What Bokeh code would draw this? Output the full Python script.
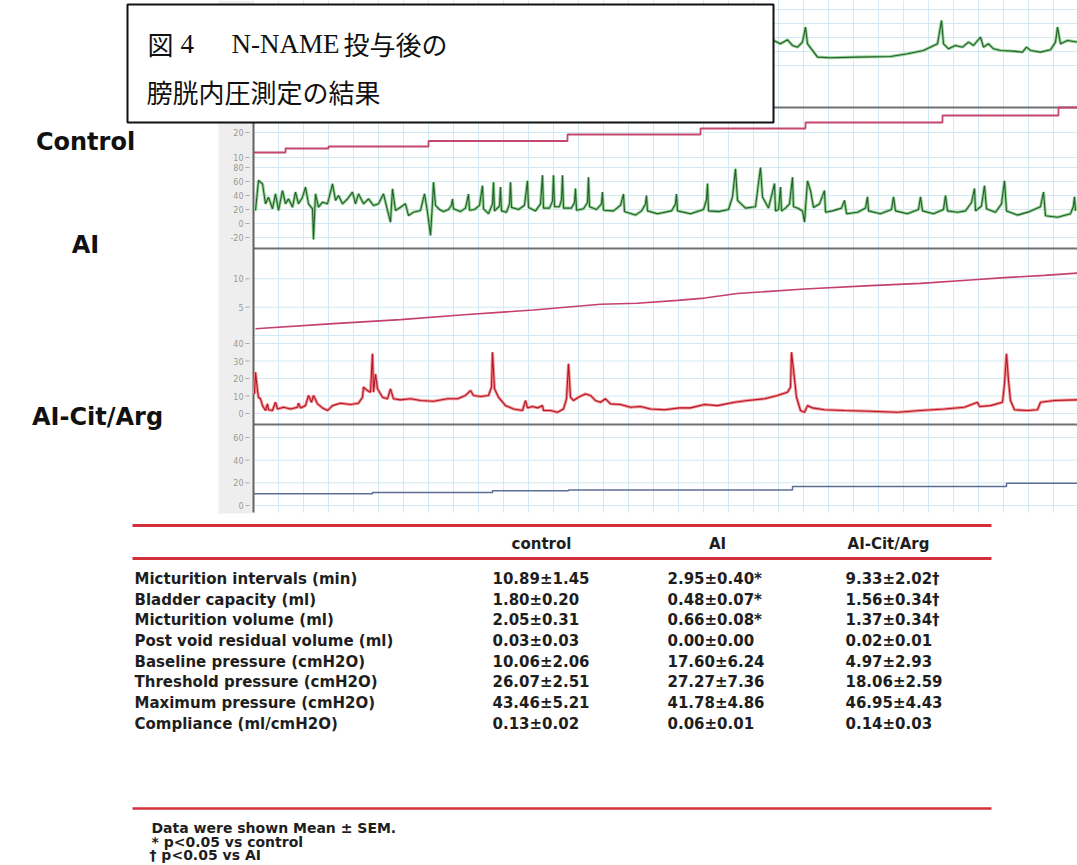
import numpy as np
from bokeh.plotting import figure
from bokeh.models import Range1d
from bokeh.embed import file_html
from bokeh.resources import INLINE
from bokeh.core.properties import value

# ---------------- data (time in minutes) ----------------
# Control: intravesical pressure (cmH2O), visible part only
CTRL_P_T = [51.4, 52.0, 52.7, 53.4, 53.9, 54.4, 54.9, 55.2, 55.4, 55.9,
            56.4, 57.7, 60.4, 63.7, 65.4, 67.0, 68.4, 68.8, 69.0, 69.5,
            70.2, 70.9, 71.5, 72.0, 72.7, 73.0, 73.5, 74.0, 74.7, 76.0,
            76.9, 77.3, 77.7, 78.7, 79.7, 80.2, 80.4, 80.7, 81.4, 82.4]
CTRL_P = [33.4, 35.8, 31.0, 36.7, 28.6, 26.2, 33.4, 54.8, 31.0, 21.5,
          12.0, 11.0, 12.0, 12.9, 16.7, 21.5, 31.0, 64.3, 31.0, 23.9,
          28.6, 26.2, 33.4, 28.6, 40.5, 26.2, 31.0, 23.9, 21.5, 20.5,
          19.1, 26.2, 21.5, 19.1, 22.4, 33.4, 54.8, 31.0, 35.8, 33.4]
# Control: voided volume (step trace)
CTRL_V_T = [0.0, 3.2, 7.5, 17.5, 31.4, 44.7, 55.2, 68.9, 80.5, 84.0]
CTRL_V = [12.0, 13.6, 14.4, 16.6, 19.2, 21.6, 24.0, 26.8, 30.0, 30.0]

# AI: intravesical pressure (cmH2O)
AI_P_T = [0.2, 0.5, 0.9, 1.2, 1.5, 1.9, 2.2, 2.5, 2.9, 3.2,
          3.5, 3.9, 4.2, 4.5, 4.9, 5.2, 5.5, 5.9, 6.0, 6.2,
          6.5, 6.9, 7.4, 7.9, 8.2, 8.5, 8.9, 9.4, 9.9, 10.2,
          10.5, 11.0, 11.5, 12.0, 12.5, 13.0, 13.4, 13.7, 13.9, 14.2,
          14.7, 15.2, 15.5, 16.0, 16.7, 17.1, 17.4,
          17.7, 17.9, 18.0, 18.2, 18.6, 19.0, 19.5, 19.8, 19.9, 20.0,
          20.7, 21.2, 21.5, 21.6, 22.1, 22.6, 22.9, 23.0, 23.5, 23.9,
          24.0, 24.1, 24.6, 24.7, 24.8, 25.3, 25.6, 25.7, 25.8, 26.5,
          27.1, 27.4, 27.5, 28.2, 28.7, 28.9, 29.0, 29.6, 29.9, 30.0,
          30.1, 30.6, 30.8, 30.9, 31.0, 31.8, 32.1, 32.2, 32.3, 33.0,
          33.4, 33.5, 33.6, 34.3, 34.8, 34.9, 35.0, 36.0, 36.7, 37.0,
          37.1, 38.2, 38.8, 39.2, 39.3, 39.4, 40.4, 41.8, 42.2, 42.3,
          42.4, 43.7, 45.0, 45.3, 45.4, 45.5, 46.5, 47.5, 47.9, 48.2,
          48.4, 49.2, 50.2, 50.7, 50.9, 51.5, 52.1, 52.2, 52.5, 52.7,
          52.8, 53.2, 53.6, 53.9, 54.0, 54.4, 54.9, 55.1, 55.4, 55.7,
          56.0, 56.6, 57.1, 57.2, 57.9, 58.8, 59.1, 59.3, 60.4, 61.2,
          61.4, 61.5, 62.7, 63.8, 64.0, 64.2, 65.4, 66.5, 66.7, 66.9,
          68.0, 69.0, 69.2, 69.4, 70.4, 71.2, 71.8, 72.1, 72.2, 72.8,
          73.1, 73.3, 74.2, 74.8, 75.1, 75.3, 76.4, 77.6, 78.7, 79.0,
          79.2, 80.4, 81.7, 82.0, 82.1, 82.2]
AI_P = [18.6, 61.4, 56.7, 28.1, 37.6, 21.0, 42.4, 18.6, 47.1, 28.1,
        35.2, 23.3, 44.8, 28.1, 37.6, 51.9, 28.1, 21.0, -22.9, 42.4,
        23.3, 30.5, 28.1, 56.7, 32.9, 40.0, 28.1, 35.2, 44.8, 28.1,
        42.4, 28.1, 35.2, 25.7, 28.1, 42.4, 18.6, 1.9, 49.5, 18.6,
        23.3, 28.1, 11.4, 16.2, 18.6, 42.4, 16.2,
        -17, 30, 59, 26, 20, 17, 20, 26, 35, 21,
        17, 22, 42, 19, 20, 26, 54, 21, 14, 28,
        59, 18, 25, 52, 18, 16, 28, 59, 23, 20,
        26, 61, 23, 18, 28, 69, 22, 22, 32, 69,
        24, 24, 34, 69, 22, 22, 30, 50, 19, 21,
        30, 66, 24, 20, 28, 45, 19, 18, 26, 42,
        17, 12, 18, 28, 40, 18, 14, 18, 28, 42,
        18, 14, 20, 34, 57, 18, 17, 20, 38, 78,
        33, 22, 24, 80, 38, 22, 57, 18, 20, 52,
        18, 22, 28, 66, 24, 22, 18, 2, 61, 47,
        23, 28, 47, 16, 18, 22, 33, 14, 16, 22,
        38, 18, 14, 20, 38, 18, 14, 20, 38, 18,
        14, 20, 40, 18, 16, 18, 30, 50, 18, 25,
        54, 21, 16, 28, 61, 18, 12, 17, 24, 45,
        11, 9, 14, 25, 38, 18]
# AI: volume (ml)
AI_V_T = [0.2, 8.0, 14.7, 21.4, 28.0, 34.7, 38.4, 42.4, 45.1, 48.4,
          55.1, 61.7, 66.7, 71.7, 75.1, 79.1, 82.4]
AI_V = [1.2, 2.1, 2.8, 3.7, 4.5, 5.5, 5.7, 6.2, 6.6, 7.4,
        8.2, 8.8, 9.2, 9.8, 10.2, 10.6, 11.0]

# AI-Cit/Arg: intravesical pressure (cmH2O)
CIT_P_T = [0.1, 0.2, 0.4, 0.5, 0.7, 0.9, 1.2, 1.4, 1.5, 1.9,
           2.2, 2.4, 3.0, 3.7, 4.4, 4.5, 4.7, 5.2, 5.5, 5.8,
           6.0, 6.4, 6.9, 7.4, 7.9, 8.7, 9.7, 10.5, 10.9, 11.0,
           11.4, 11.7, 11.9, 12.0, 12.2, 12.4, 12.9, 13.4, 13.7, 14.0,
           14.7, 15.7, 16.7, 18.0, 19.4, 20.4, 21.2, 21.7, 22.0, 22.7,
           23.5, 23.8, 23.9, 24.1, 24.5, 25.2, 26.0, 26.9, 27.2, 27.4,
           27.9, 28.4, 28.9, 29.0, 29.7, 30.4, 31.0, 31.3, 31.5, 31.7,
           32.0, 32.5, 33.2, 33.7, 34.2, 34.7, 35.2, 35.7, 36.7, 37.7,
           38.7, 39.7, 41.1, 42.6, 43.7, 45.1, 46.4, 48.1, 49.4, 51.1,
           52.4, 53.4, 53.7, 53.8, 54.1, 54.3, 54.7, 55.1, 55.4, 55.9,
           57.1, 59.1, 61.7, 64.4, 66.7, 69.1, 71.1, 72.4, 72.6, 73.7,
           74.9, 75.1, 75.3, 75.5, 75.7, 76.1, 77.4, 78.4, 78.7, 80.1,
           82.4]
CIT_P = [11.2, 23.6, 13.1, 9.3, 8.4, 4.5, 1.7, 5.5, 2.1, 1.7,
         6.4, 2.6, 3.6, 2.6, 3.6, 5.9, 3.2, 4.5, 10.3, 6.4,
         10.3, 5.5, 3.2, 1.7, 4.5, 5.9, 5.1, 5.9, 9.3, 15.0,
         13.1, 12.2, 34.1, 12.2, 22.6, 14.1, 9.3, 8.4, 14.1, 8.4,
         7.8, 8.4, 7.4, 7.0, 8.4, 8.4, 10.3, 13.1, 10.3, 9.7,
         10.3, 15.0, 35.0, 14.1, 9.3, 4.5, 2.6, 1.7, 7.4, 3.2,
         4.0, 3.2, 4.5, 1.7, 1.7, 0.7, 2.6, 8.4, 28.4, 9.3,
         7.4, 9.3, 11.2, 10.3, 7.4, 6.4, 8.4, 5.5, 5.1, 3.6,
         4.0, 2.6, 2.1, 3.2, 3.2, 5.1, 4.5, 6.4, 7.4, 8.4,
         10.3, 12.2, 15.0, 35.0, 19.8, 9.3, 1.7, 0.7, 4.5, 3.2,
         2.1, 1.7, 1.3, 0.7, 1.7, 2.6, 3.6, 6.4, 4.0, 4.5,
         6.4, 16.9, 34.1, 18.8, 7.4, 2.1, 1.7, 2.1, 6.4, 7.4,
         7.8]
# AI-Cit/Arg: volume (step trace)
CIT_V_T = [0.0, 11.9, 23.9, 31.5, 53.9, 75.3, 84.0]
CIT_V = [10.3, 11.5, 13.0, 13.7, 16.8, 19.7, 19.7]

# tick labels of the recorder axes
CTRL_P_TICKS = [80, 60, 40, 20, 0]
CTRL_V_TICKS = [20, 10]
AI_P_TICKS = [80, 60, 40, 20, 0, -20]
AI_V_TICKS = [10, 5]
CIT_P_TICKS = [40, 30, 20, 10, 0]
CIT_V_TICKS = [60, 40, 20, 0]

GROUP_LABELS = ["Control", "AI", "AI-Cit/Arg"]

# table
TABLE_COLUMNS = ["control", "AI", "AI-Cit/Arg"]
ROW_LABELS = ["Micturition  intervals (min)", "Bladder capacity (ml)",
              "Micturition  volume (ml)", "Post void residual volume (ml)",
              "Baseline pressure (cmH2O)", "Threshold  pressure (cmH2O)",
              "Maximum pressure (cmH2O)", "Compliance (ml/cmH2O)"]
CONTROL_VALS = ["10.89±1.45", "1.80±0.20", "2.05±0.31", "0.03±0.03",
                "10.06±2.06", "26.07±2.51", "43.46±5.21", "0.13±0.02"]
AI_VALS = ["2.95±0.40*", "0.48±0.07*", "0.66±0.08*", "0.00±0.00",
           "17.60±6.24", "27.27±7.36", "41.78±4.86", "0.06±0.01"]
CIT_VALS = ["9.33±2.02†", "1.56±0.34†", "1.37±0.34†", "0.02±0.01",
            "4.97±2.93", "18.06±2.59", "46.95±4.43", "0.14±0.03"]
FOOTNOTES = ["Data were shown  Mean ± SEM.", "*  p<0.05 vs control", "†  p<0.05 vs AI"]

# ---------------- layout (page pixels) ----------------
FT, FB, FL, FR = 0, 865, 0, 1077          # frame edges on the page
T0_X, PX_PER_MIN = 253, 10.0              # time axis origin & scale
PANEL_CAL = {                              # (v1, y1, v2, y2) calibration
    "ctrl_p": (0, 65, 20, 51),
    "ctrl_v": (10, 157, 20, 132),
    "ai_p": (0, 223, 20, 209),
    "ai_v": (0, 335, 10, 278.3),
    "cit_p": (0, 413, 40, 343),
    "cit_v": (0, 505, 60, 437),
}


def band_range(v1, y1, v2, y2):
    s = (y2 - y1) / (v2 - v1)
    return Range1d(start=v1 + (FB - y1) / s, end=v1 + (FT - y1) / s)


p = figure(width=FR - FL, height=FB - FT, output_backend="svg", toolbar_location=None,
           x_range=Range1d(FL, FR), y_range=Range1d(FB, FT),
           x_axis_type=None, y_axis_type=None, min_border=0,
           outline_line_color=None, title=None)
p.background_fill_color = "white"
p.border_fill_color = "white"
p.extra_x_ranges = {"t": Range1d(start=(FL - T0_X) / PX_PER_MIN, end=(FR - T0_X) / PX_PER_MIN)}
p.extra_y_ranges = {k: band_range(*v) for k, v in PANEL_CAL.items()}

GRID = "#d3e9f3"
# vertical chart-paper grid
gt = np.arange(0, 86, 2.5)
p.segment(x0=gt, x1=gt, y0=0, y1=512, x_range_name="t", line_color=GRID, line_width=1)
# horizontal grid at tick values
for name, ticks in [("ctrl_p", CTRL_P_TICKS), ("ctrl_v", CTRL_V_TICKS + [30]),
                    ("ai_p", AI_P_TICKS), ("ai_v", AI_V_TICKS + [0]),
                    ("cit_p", CIT_P_TICKS), ("cit_v", CIT_V_TICKS)]:
    p.segment(x0=0, x1=86, y0=ticks, y1=ticks, x_range_name="t", y_range_name=name,
              line_color=GRID, line_width=1)

# gray axis strip
p.quad(left=[218], right=[252], top=[0], bottom=[513], fill_color="#eeeeee", line_color=None)

# tick labels + marks
for name, ticks in [("ctrl_v", CTRL_V_TICKS), ("ai_p", AI_P_TICKS), ("ai_v", AI_V_TICKS),
                    ("cit_p", CIT_P_TICKS), ("cit_v", CIT_V_TICKS)]:
    p.text(x=243, y=ticks, text=[str(t) for t in ticks], y_range_name=name,
           text_align="right", text_baseline="middle", text_font_size="8px",
           text_color="#9a9a9a", text_font=value("DejaVu Sans"))
    p.segment(x0=245, x1=249, y0=ticks, y1=ticks, y_range_name=name,
              line_color="#aaaaaa", line_width=1)

# panel separators and left axis line
p.segment(x0=253, x1=FR, y0=[107, 248, 424], y1=[107, 248, 424], line_color="#707070", line_width=2)
p.segment(x0=[253], x1=[253], y0=[100], y1=[512], line_color="#606060", line_width=2)

# traces
GREEN_HALO, GREEN = "#93d193", "#245e2c"
RED_HALO, RED = "#f2908f", "#b3162b"
p.line(CTRL_P_T, CTRL_P, x_range_name="t", y_range_name="ctrl_p", line_color=GREEN_HALO, line_width=3)
p.line(CTRL_P_T, CTRL_P, x_range_name="t", y_range_name="ctrl_p", line_color=GREEN, line_width=1.1)
p.step(CTRL_V_T, CTRL_V, mode="after", x_range_name="t", y_range_name="ctrl_v",
       line_color="#c4476d", line_width=1.8)
p.line(AI_P_T, AI_P, x_range_name="t", y_range_name="ai_p", line_color=GREEN_HALO, line_width=3)
p.line(AI_P_T, AI_P, x_range_name="t", y_range_name="ai_p", line_color=GREEN, line_width=1.1)
p.line(AI_V_T, AI_V, x_range_name="t", y_range_name="ai_v", line_color="#c4406d", line_width=1.6)
p.line(CIT_P_T, CIT_P, x_range_name="t", y_range_name="cit_p", line_color=RED_HALO, line_width=3)
p.line(CIT_P_T, CIT_P, x_range_name="t", y_range_name="cit_p", line_color=RED, line_width=1.1)
p.step(CIT_V_T, CIT_V, mode="after", x_range_name="t", y_range_name="cit_v",
       line_color="#5d6e96", line_width=1.5)

# group labels
p.text(x=[85, 85, 97], y=[141, 244, 416], text=GROUP_LABELS, text_align="center",
       text_baseline="middle", text_font=value("DejaVu Sans"), text_font_style="bold",
       text_font_size="24px", text_color="#111111")

# title box
p.quad(left=[127], right=[773], top=[4], bottom=[122], fill_color="white",
       line_color="#111111", line_width=2)
JP = value("Noto Sans CJK JP")
SERIF = value("Liberation Serif")
p.text(x=[147], y=[43], text=["図"], text_font=JP, text_font_size="26px",
       text_baseline="middle", text_color="#111111")
p.text(x=[180], y=[43], text=["4"], text_font=SERIF, text_font_size="27px",
       text_baseline="middle", text_color="#111111")
p.text(x=[231], y=[43], text=["N-NAME"], text_font=SERIF, text_font_size="27px",
       text_baseline="middle", text_color="#111111")
p.text(x=[343], y=[43], text=["投与後の"], text_font=JP, text_font_size="26px",
       text_baseline="middle", text_color="#111111")
p.text(x=[146], y=[91], text=["膀胱内圧測定の結果"], text_font=JP, text_font_size="26px",
       text_baseline="middle", text_color="#111111")

# table
TAB = value("DejaVu Sans")
p.segment(x0=132, x1=991, y0=[525, 558, 808], y1=[525, 558, 808],
          line_color="#d3303c", line_width=[3, 3, 2.5])
p.text(x=[541, 717, 888], y=543, text=TABLE_COLUMNS, text_align="center",
       text_baseline="middle", text_font=TAB, text_font_style="bold",
       text_font_size="15px", text_color="#1e1e1e")
row_y = [578.3 + 20.7 * i for i in range(len(ROW_LABELS))]
for x, col in [(134, ROW_LABELS), (492, CONTROL_VALS), (667, AI_VALS), (845, CIT_VALS)]:
    p.text(x=x, y=row_y, text=col, text_align="left", text_baseline="middle",
           text_font=TAB, text_font_style="bold", text_font_size="15px",
           text_color="#1e1e1e")
p.text(x=[151, 151, 149], y=[827, 841, 854], text=FOOTNOTES, text_align="left",
       text_baseline="middle", text_font=TAB, text_font_style="bold",
       text_font_size="14px", text_color="#1e1e1e")

open("out.html", "w").write(file_html(p, INLINE))
